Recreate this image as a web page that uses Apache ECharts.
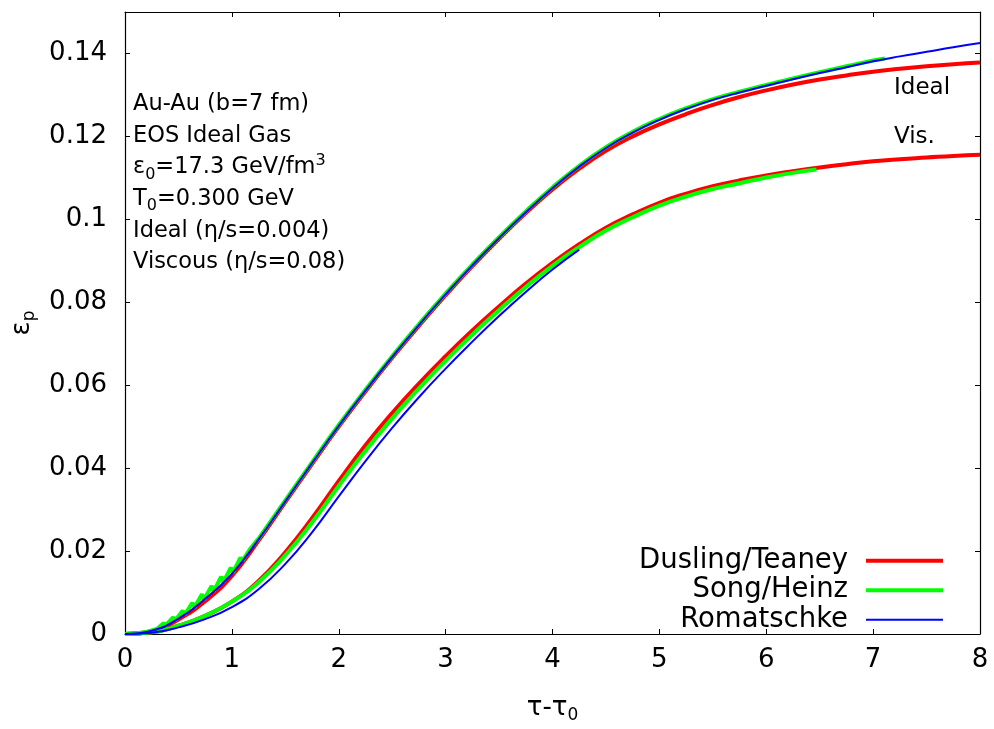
<!DOCTYPE html>
<html>
<head>
<meta charset="utf-8">
<title>Elliptic flow momentum anisotropy</title>
<script src="https://cdn.jsdelivr.net/npm/echarts@6/dist/echarts.min.js"></script>
<style>
  html, body { margin: 0; padding: 0; background: #fff; }
  #chart { width: 994px; height: 729px; }
</style>
</head>
<body>
<div id="chart"></div>
<script>
// Momentum anisotropy eps_p versus tau - tau0 for three hydro codes,
// ideal (eta/s = 0.004) and viscous (eta/s = 0.08) runs.

const xTicks = [0, 1, 2, 3, 4, 5, 6, 7, 8];
const yTicks = [0, 0.02, 0.04, 0.06, 0.08, 0.1, 0.12, 0.14];

// common time grid (tau - tau0)
const tGrid = [0, 0.25, 0.5, 0.75, 1, 1.25, 1.5, 1.75, 2, 2.25, 2.5, 2.75, 3, 3.25, 3.5, 3.75,
               4, 4.25, 4.5, 4.75, 5, 5.25, 5.5, 5.75, 6, 6.25, 6.5, 6.75, 7, 7.25, 7.5, 7.75, 8];

// ---- Ideal runs ----
const idealDusling = [0, 0.0006, 0.0035, 0.0079, 0.0140, 0.0225, 0.0318, 0.0410, 0.0500, 0.0585, 0.0666, 0.0743, 0.0817, 0.0887, 0.0953, 0.1015,
                      0.1072, 0.1122, 0.1165, 0.1200, 0.1229, 0.1254, 0.1276, 0.1295, 0.1311, 0.1325, 0.1337, 0.1347, 0.1356, 0.1363, 0.1369, 0.1374, 0.1378];
const idealRomatschke = [0, 0.0008, 0.0037, 0.0085, 0.0145, 0.0228, 0.0320, 0.0412, 0.0502, 0.0587, 0.0668, 0.0745, 0.0819, 0.0889, 0.0955, 0.1017,
                         0.1075, 0.1127, 0.1172, 0.1209, 0.1240, 0.1266, 0.1288, 0.1306, 0.1322, 0.1338, 0.1353, 0.1367, 0.1381, 0.1393, 0.1404, 0.1415, 0.1425];

// Song/Heinz ideal: jagged early segment, then smooth up to tau - tau0 = 7.11
const tIdealSongEarly = [0, 0.1, 0.2, 0.30, 0.36, 0.38, 0.45, 0.47, 0.54, 0.56, 0.63, 0.65, 0.72, 0.74, 0.81, 0.83, 0.90, 0.92, 0.99, 1.01, 1.08, 1.10, 1.17, 1.25];
const idealSongEarly = [0, 0.0001, 0.0005, 0.0012, 0.0026, 0.0021, 0.0040, 0.0033, 0.0056, 0.0047, 0.0075, 0.0064, 0.0096, 0.0083, 0.0116, 0.0103, 0.0138, 0.0125, 0.0160, 0.0148, 0.0184, 0.0177, 0.0205, 0.0230];
const tIdealSong = [1.25, 1.5, 1.75, 2, 2.25, 2.5, 2.75, 3, 3.25, 3.5, 3.75, 4, 4.25, 4.5, 4.75, 5, 5.25, 5.5, 5.75, 6, 6.25, 6.5, 6.75, 7, 7.11];
const idealSong = [0.0230, 0.0322, 0.0414, 0.0504, 0.0589, 0.0670, 0.0747, 0.0821, 0.0891, 0.0957, 0.1019, 0.1077, 0.1129, 0.1174, 0.1211,
                   0.1242, 0.1268, 0.1290, 0.1308, 0.1324, 0.1340, 0.1355, 0.1369, 0.1383, 0.1388];

// ---- Viscous runs ----
const visDusling = [0, 0.0004, 0.0020, 0.0044, 0.0078, 0.0128, 0.0197, 0.0279, 0.0369, 0.0455, 0.0533, 0.0604, 0.0670, 0.0732, 0.0790, 0.0845,
                    0.0895, 0.0940, 0.0980, 0.1012, 0.1040, 0.1062, 0.1080, 0.1094, 0.1106, 0.1116, 0.1125, 0.1133, 0.1140, 0.1145, 0.1149, 0.1153, 0.1156];

const tVisSong = [0, 0.25, 0.5, 0.75, 1, 1.25, 1.5, 1.75, 2, 2.25, 2.5, 2.75, 3, 3.25, 3.5, 3.75, 4, 4.25, 4.5, 4.75, 5, 5.25, 5.5, 5.75, 6, 6.25, 6.47];
const visSong = [0, 0.0004, 0.0020, 0.0044, 0.0078, 0.0125, 0.0190, 0.0269, 0.0357, 0.0442, 0.0520, 0.0592, 0.0659, 0.0722, 0.0781, 0.0837,
                 0.0888, 0.0933, 0.0973, 0.1005, 0.1033, 0.1055, 0.1073, 0.1087, 0.1101, 0.1112, 0.1120];

const tVisRomatschke = [0, 0.25, 0.5, 0.75, 1, 1.25, 1.5, 1.75, 2, 2.25, 2.5, 2.75, 3, 3.25, 3.5, 3.75, 4, 4.25];
const visRomatschke = [0, 0.0003, 0.0016, 0.0036, 0.0065, 0.0108, 0.0169, 0.0245, 0.0332, 0.0417, 0.0497, 0.0571, 0.0640, 0.0705, 0.0767, 0.0825, 0.0879, 0.0927];

const zip = (xs, ys) => xs.map((x, i) => [x, ys[i]]);

const FONT = 'DejaVu Sans';
const RED = '#ff0000', GREEN = '#00ff00', BLUE = '#0000ff';

function curve(name, color, width, xs, ys, smooth) {
  return {
    name: name,
    type: 'line',
    xAxisIndex: 0,
    yAxisIndex: 0,
    data: zip(xs, ys),
    smooth: smooth,
    showSymbol: false,
    symbol: 'none',
    silent: true,
    animation: false,
    lineStyle: { color: color, width: width },
    itemStyle: { color: color }
  };
}

const tickStyle = { show: true, inside: true, length: 5, lineStyle: { color: '#000', width: 1 } };
const lineStyle = { show: true, onZero: false, lineStyle: { color: '#000', width: 1.2 } };

const sub = { fontSize: 16, fontFamily: FONT, lineHeight: 16, verticalAlign: 'bottom', fill: '#000' };
const sup = { fontSize: 16, fontFamily: FONT, lineHeight: 16, verticalAlign: 'top', fill: '#000' };
const base = { fontSize: 22.5, fontFamily: FONT, lineHeight: 30, fill: '#000' };

const infoLines = [
  '{b|Au-Au (b=7 fm)}',
  '{b|EOS Ideal Gas}',
  '{b|ε}{s|0}{b|=17.3 GeV/fm}{p|3}',
  '{b|T}{s|0}{b|=0.300 GeV}',
  '{b|Ideal (η/s=0.004)}',
  '{b|Viscous (η/s=0.08)}'
];

const graphics = infoLines.map((txt, i) => ({
  type: 'text',
  x: 133,
  y: 104 + i * 31.7,
  silent: true,
  style: {
    text: txt,
    verticalAlign: 'middle',
    rich: { b: base, s: sub, p: sup }
  }
}));
graphics.push(
  { type: 'text', x: 894, y: 88, silent: true,
    style: { text: 'Ideal', font: '23px "' + FONT + '"', fill: '#000', verticalAlign: 'middle' } },
  { type: 'text', x: 894, y: 137, silent: true,
    style: { text: 'Vis.', font: '23px "' + FONT + '"', fill: '#000', verticalAlign: 'middle' } }
);

const chart = echarts.init(document.getElementById('chart'), null, { renderer: 'canvas' });
chart.setOption({
  animation: false,
  backgroundColor: '#fff',
  grid: { left: 125, right: 14, top: 12, bottom: 90, containLabel: false },
  legend: {
    data: ['Dusling/Teaney', 'Song/Heinz', 'Romatschke'],
    orient: 'vertical',
    align: 'right',
    right: 49,
    top: 546,
    padding: 0,
    itemGap: 0,
    itemWidth: 77,
    itemHeight: 6,
    selectedMode: false,
    itemStyle: { opacity: 0 },
    lineStyle: { width: 'inherit' },
    textStyle: { fontFamily: FONT, fontSize: 27.5, color: '#000', lineHeight: 29.5, padding: [0, 13, 0, 0] }
  },
  xAxis: [
    {
      type: 'value', min: xTicks[0], max: xTicks[xTicks.length - 1], interval: 1,
      position: 'bottom',
      name: '{a|τ-τ}{s|0}', nameLocation: 'middle', nameGap: 58,
      nameTextStyle: {
        rich: {
          a: { fontFamily: FONT, fontSize: 26, lineHeight: 32, color: '#000' },
          s: { fontFamily: FONT, fontSize: 17, lineHeight: 17, verticalAlign: 'bottom', color: '#000' }
        }
      },
      axisLine: lineStyle, axisTick: tickStyle, splitLine: { show: false },
      axisLabel: { fontFamily: FONT, fontSize: 26, color: '#000', margin: 13 }
    },
    {
      type: 'value', min: xTicks[0], max: xTicks[xTicks.length - 1], interval: 1,
      position: 'top',
      axisLine: lineStyle, axisTick: tickStyle, splitLine: { show: false },
      axisLabel: { show: false }
    }
  ],
  yAxis: [
    {
      type: 'value', min: yTicks[0], max: 0.15, interval: 0.02,
      position: 'left',
      name: '{a|ε}{s|p}', nameLocation: 'middle', nameGap: 86, nameRotate: 90,
      nameTextStyle: {
        rich: {
          a: { fontFamily: FONT, fontSize: 26, lineHeight: 32, color: '#000' },
          s: { fontFamily: FONT, fontSize: 17, lineHeight: 17, verticalAlign: 'bottom', color: '#000' }
        }
      },
      axisLine: lineStyle, axisTick: tickStyle, splitLine: { show: false },
      axisLabel: {
        fontFamily: FONT, fontSize: 26, color: '#000', margin: 18,
        showMaxLabel: false,
        formatter: v => (yTicks.some(t => Math.abs(t - v) < 1e-9) ? String(+v.toFixed(2)) : '')
      }
    },
    {
      type: 'value', min: yTicks[0], max: 0.15, interval: 0.02,
      position: 'right',
      axisLine: lineStyle, axisTick: tickStyle, splitLine: { show: false },
      axisLabel: { show: false }
    }
  ],
  graphic: graphics,
  series: [
    curve('Dusling/Teaney', RED, 4, tGrid, idealDusling, true),
    curve('Dusling/Teaney', RED, 4, tGrid, visDusling, true),
    curve('Song/Heinz', GREEN, 4, tIdealSongEarly, idealSongEarly, false),
    curve('Song/Heinz', GREEN, 4, tIdealSong, idealSong, true),
    curve('Song/Heinz', GREEN, 4, tVisSong, visSong, true),
    curve('Romatschke', BLUE, 2, tGrid, idealRomatschke, true),
    curve('Romatschke', BLUE, 2, tVisRomatschke, visRomatschke, true)
  ]
});
</script>
</body>
</html>
